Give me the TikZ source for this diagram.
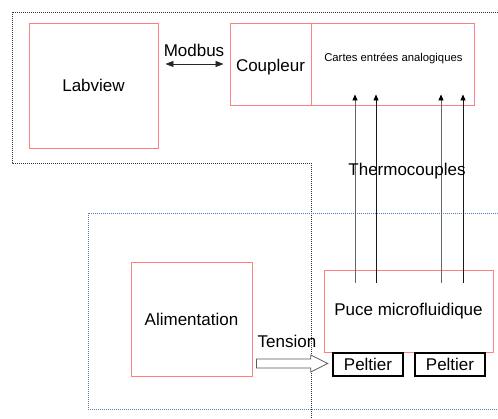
\documentclass[tikz,border=0pt]{standalone}
\usepackage{fontspec}
\setmainfont{Liberation Sans}
\usetikzlibrary{calc, positioning, arrows.meta}
\definecolor{Rouge1}{RGB}{255,128,128}
\definecolor{Bleu1}{RGB}{90,125,185}
\begin{document}
\begin{tikzpicture}[
  x=1pt, y=-1pt,
  bloc/.style={
    rectangle, draw=Rouge1, line width=0.9pt,
    font=\fontsize{17}{20}\selectfont, inner sep=0pt
  },
  peltbox/.style={
    rectangle, draw=black, line width=2.6pt,
    font=\fontsize{17}{20}\selectfont, inner sep=0pt,
    minimum width=70pt, minimum height=23pt
  },
  lbl/.style={font=\fontsize{17}{20}\selectfont, inner sep=0pt, text=black},
  zonenoire/.style={draw=black!80, line width=0.6pt, dash pattern=on 1pt off 1pt},
  zonebleue/.style={draw=Bleu1, line width=0.6pt, dash pattern=on 1pt off 1pt},
  modarr/.style={
    {Triangle[length=8pt, width=6pt]}-{Triangle[length=8pt, width=6pt]},
    line width=0.8pt, color=black!85
  },
  tcarr/.style={-{Triangle[length=6pt, width=5pt, color=black]}, line width=0.8pt},
  openarr/.style={draw=black!65, fill=white, line width=0.8pt}
]
\useasboundingbox (0,0) rectangle (498,419);

%% Zones en pointillés
\draw[zonenoire] (498,12) -- (12,12) -- (12,163) -- (311,163) -- (311,419);
\draw[zonebleue] (498,213) -- (88,213) -- (88,409) -- (498,409);

%% Blocs du haut
\node[bloc, minimum width=129pt, minimum height=125pt] (labview) at (93.5,85.5) {};
\node[lbl] at (labview.center) {Labview};

\node[bloc, minimum width=81pt, minimum height=82pt] (coupleur) at (270.5,64) {};
\node[lbl] at ($(coupleur.center)+(0,3)$) {Coupleur};

\node[bloc, minimum width=163pt, minimum height=82pt, right=0pt of coupleur] (cartes) {};
\node[font=\fontsize{11.3}{13}\selectfont, inner sep=0pt] at ($(cartes.center)+(0,-5)$)
  {Cartes entrées analogiques};

%% Blocs du bas
\node[bloc, minimum width=121pt, minimum height=114pt] (alim) at (191.5,319) {};
\node[lbl] at (alim.center) {Alimentation};

\node[bloc, minimum width=169pt, minimum height=82pt] (puce) at (408.5,311) {};
\node[lbl] at (puce.center) {Puce microfluidique};

\node[peltbox] (pelt1) at (368,364.5) {Peltier};
\node[peltbox] (pelt2) at (450,364.5) {Peltier};

%% Modbus
\draw[modarr, shorten <=7pt, shorten >=6pt]
  (coupleur.west -| labview.east) --
  node[lbl, above=7pt] {Modbus}
  (coupleur.west);

%% Thermocouples
\foreach \dx/\col in {-53.5/black!60, -32.5/black!90, 32.5/black!60, 54.5/black!90}
  \draw[tcarr, color=\col] ($(puce.north)+(\dx,13)$) --
    ($(puce.north |- cartes.south)+(\dx,-11)$);
\node[lbl] (thermo) at (407,171) {Thermocouples};

%% Tension
\coordinate (tip) at ($(pelt1.west)+(-4,-1)$);
\coordinate (tail) at ($(alim.east |- tip)+(4,0)$);
\draw[openarr] ($(tail)+(0,-4.5)$) -- ($(tip)+(-17,-4.5)$) -- ($(tip)+(-17,-8.5)$)
  -- (tip) -- ($(tip)+(-17,8.5)$) -- ($(tip)+(-17,4.5)$) -- ($(tail)+(0,4.5)$) -- cycle;
\node[lbl] (tension) at (287,341) {Tension};

\end{tikzpicture}
\end{document}
